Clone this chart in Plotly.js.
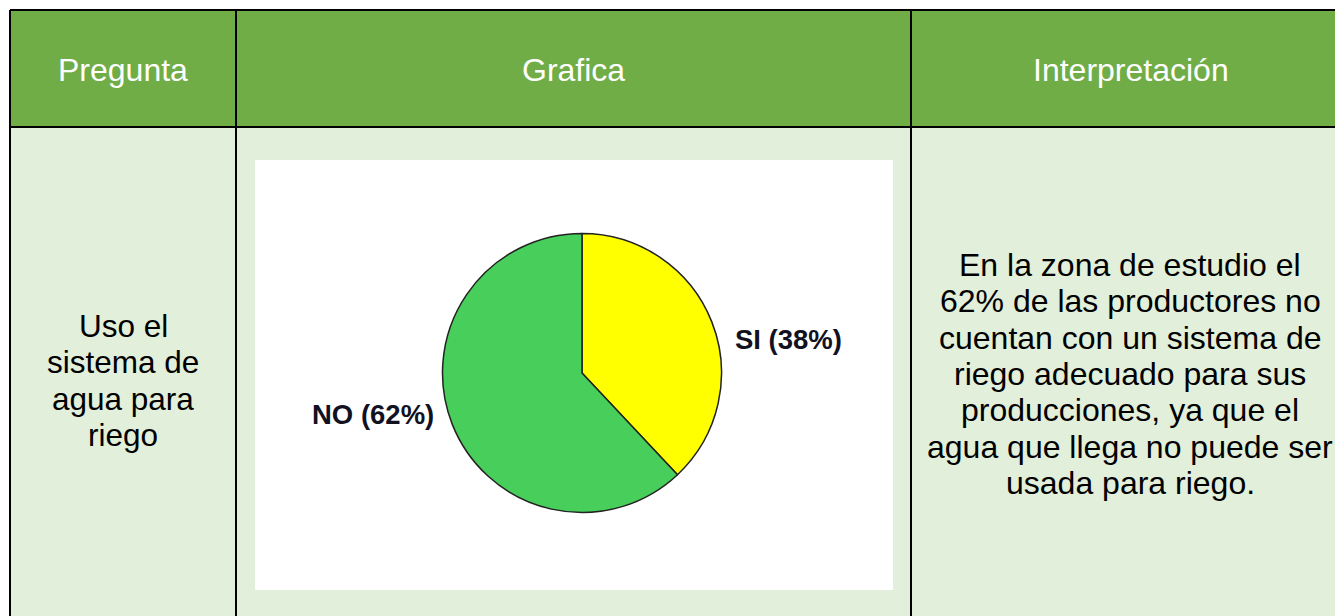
<!DOCTYPE html>
<html>
<head>
<meta charset="utf-8">
<script src="https://cdn.plot.ly/plotly-3.0.1.min.js"></script>
<style>
  html, body { margin: 0; padding: 0; background: #ffffff; }
  #chart { width: 1335px; height: 616px; }
</style>
</head>
<body>
<div id="chart"></div>
<script>
// ---- data ----
const categories = ['SI', 'NO'];
const values = [38, 62];
const headers = ['Pregunta', 'Grafica', 'Interpretación'];
const questionLines = ['Uso el', 'sistema de', 'agua para', 'riego'];
const interpretationLines = [
  'En la zona de estudio el',
  '62% de las productores no',
  'cuentan con un sistema de',
  'riego adecuado para sus',
  'producciones, ya que el',
  'agua que llega no puede ser',
  'usada para riego.'
];

// ---- layout geometry (pixels) ----
const W = 1335, H = 616;
const colEdges = [10, 236, 911, 1350];
const tableTop = 10, headerBottom = 127, tableBottom = 640;
const box = {x0: 255, x1: 893, y0: 160, y1: 590};
const pieC = {x: 582, y: 373, r: 139.5};

const headerColor = '#70AD47';
const bodyColor = '#E2EFDA';
const lineW = 2;

const shapes = [];
shapes.push({type: 'rect', xref: 'x', yref: 'y', x0: colEdges[0], x1: colEdges[3], y0: tableTop, y1: headerBottom,
  fillcolor: headerColor, line: {width: 0}, layer: 'below'});
shapes.push({type: 'rect', xref: 'x', yref: 'y', x0: colEdges[0], x1: colEdges[3], y0: headerBottom, y1: tableBottom,
  fillcolor: bodyColor, line: {width: 0}, layer: 'below'});
shapes.push({type: 'rect', xref: 'x', yref: 'y', x0: box.x0, x1: box.x1, y0: box.y0, y1: box.y1,
  fillcolor: '#ffffff', line: {width: 0}, layer: 'below'});
shapes.push({type: 'line', xref: 'x', yref: 'y', x0: colEdges[0], x1: colEdges[3], y0: tableTop, y1: tableTop, line: {color: '#000', width: lineW}});
shapes.push({type: 'line', xref: 'x', yref: 'y', x0: colEdges[0], x1: colEdges[3], y0: headerBottom, y1: headerBottom, line: {color: '#000', width: lineW}});
for (let i = 0; i < 3; i++) {
  shapes.push({type: 'line', xref: 'x', yref: 'y', x0: colEdges[i], x1: colEdges[i], y0: tableTop, y1: tableBottom, line: {color: '#000', width: lineW}});
}

const annotations = [];
const textFont = 'Liberation Sans, Arial, sans-serif';
headers.forEach((h, i) => {
  annotations.push({xref: 'x', yref: 'y', x: (colEdges[i] + colEdges[i + 1]) / 2, y: 70,
    text: h, showarrow: false, xanchor: 'center', yanchor: 'middle',
    font: {family: textFont, size: 32, color: '#ffffff'}});
});
const lineGap = 36.3;
questionLines.forEach((t, i) => {
  annotations.push({xref: 'x', yref: 'y', x: (colEdges[0] + colEdges[1]) / 2, y: 326 + i * lineGap,
    text: t, showarrow: false, xanchor: 'center', yanchor: 'middle',
    font: {family: textFont, size: 31.5, color: '#000000'}});
});
interpretationLines.forEach((t, i) => {
  annotations.push({xref: 'x', yref: 'y', x: 1130, y: 265 + i * lineGap,
    text: t, showarrow: false, xanchor: 'center', yanchor: 'middle',
    font: {family: textFont, size: 32, color: '#000000'}});
});
const labelText = categories.map((c, i) => '<b>' + c + ' (' + values[i] + '%)</b>');
annotations.push({xref: 'x', yref: 'y', x: 733, y: 339, text: labelText[0], showarrow: false,
  xanchor: 'left', yanchor: 'middle', font: {family: textFont, size: 27.5, color: '#111122'}});
annotations.push({xref: 'x', yref: 'y', x: 436, y: 414, text: labelText[1], showarrow: false,
  xanchor: 'right', yanchor: 'middle', font: {family: textFont, size: 27.5, color: '#111122'}});

const pieTrace = {
  type: 'pie',
  labels: categories,
  values: values,
  sort: false,
  direction: 'clockwise',
  rotation: 0,
  textinfo: 'none',
  hoverinfo: 'label+percent',
  marker: {colors: ['#FFFF00', '#48CE5A'], line: {color: '#222222', width: 1.5}},
  domain: {
    x: [(pieC.x - pieC.r) / W, (pieC.x + pieC.r) / W],
    y: [(H - (pieC.y + pieC.r)) / H, (H - (pieC.y - pieC.r)) / H]
  },
  showlegend: false
};

const layout = {
  width: W, height: H,
  margin: {l: 0, r: 0, t: 0, b: 0},
  paper_bgcolor: '#ffffff',
  plot_bgcolor: 'rgba(0,0,0,0)',
  xaxis: {range: [0, W], visible: false, fixedrange: true},
  yaxis: {range: [H, 0], visible: false, fixedrange: true},
  shapes: shapes,
  annotations: annotations,
  showlegend: false
};

Plotly.newPlot('chart', [pieTrace], layout, {displayModeBar: false, staticPlot: true});
</script>
</body>
</html>
